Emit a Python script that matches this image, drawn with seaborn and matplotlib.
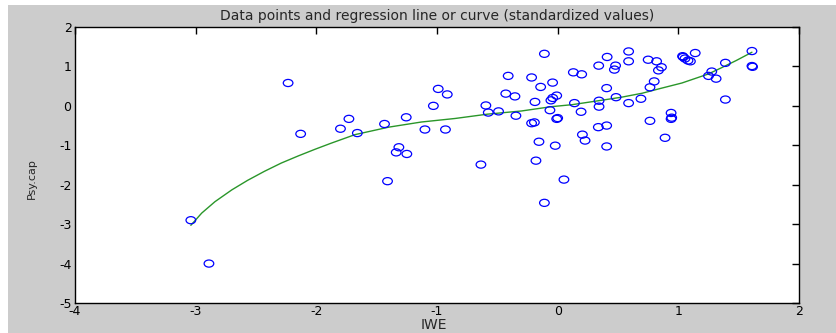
import numpy as np
import pandas as pd
import matplotlib
matplotlib.use("Agg")
import matplotlib.pyplot as plt
from matplotlib.path import Path
from matplotlib.patches import Rectangle
import seaborn as sns

# ---- data ----
iwe = [-3.04, -2.89, -2.234, -2.13, -1.80, -1.73, -1.66, -1.435, -1.41, -1.316,
       -1.338, -1.25, -1.255, -1.10, -1.03, -0.99, -0.915, -0.93, -0.636, -0.595,
       -0.575, -0.49, -0.41, -0.43, -0.354, -0.346, -0.216, -0.188, -0.216, -0.193,
       -0.141, -0.155, -0.18, -0.11, -0.11, -0.042, -0.056, -0.041, -0.008, -0.064,
       -0.008, 0.0, -0.02, 0.052, 0.130, 0.199, 0.139, 0.194, 0.205, 0.227,
       0.34, 0.343, 0.343, 0.337, 0.406, 0.406, 0.406, 0.41, 0.48, 0.47,
       0.484, 0.588, 0.588, 0.588, 0.69, 0.75, 0.765, 0.765, 0.80, 0.82,
       0.86, 0.835, 0.89, 0.94, 0.945, 0.94, 1.04, 1.055, 1.08, 1.10,
       1.035, 1.14, 1.277, 1.25, 1.313, 1.39, 1.39, 1.61, 1.61, 1.615]
psycap = [-2.90, -4.00, 0.58, -0.71, -0.58, -0.33, -0.69, -0.46, -1.91, -1.05,
          -1.18, -1.22, -0.29, -0.60, 0.0, 0.43, 0.29, -0.60, -1.49, 0.01,
          -0.17, -0.14, 0.76, 0.31, 0.24, -0.25, 0.72, 0.10, -0.44, -0.42,
          0.48, -0.91, -1.39, 1.32, -2.46, 0.59, 0.14, 0.20, 0.26, -0.11,
          -0.33, -0.31, -1.01, -1.87, 0.85, 0.80, 0.07, -0.15, -0.73, -0.88,
          1.02, 0.13, -0.02, -0.54, -0.50, -1.03, 0.45, 1.24, 1.02, 0.92,
          0.22, 1.38, 1.13, 0.07, 0.18, 1.17, 0.47, -0.38, 0.62, 1.13,
          0.98, 0.90, -0.81, -0.18, -0.30, -0.33, 1.24, 1.20, 1.15, 1.13,
          1.26, 1.34, 0.87, 0.76, 0.69, 1.09, 0.16, 1.39, 1.01, 0.99]

curve_x = [-3.04, -2.95, -2.84, -2.70, -2.57, -2.43, -2.29, -2.15, -2.01, -1.88,
           -1.68, -1.40, -1.13, -0.85, -0.58, -0.30, -0.05, 0.12, 0.36, 0.53,
           0.70, 0.85, 1.03, 1.25, 1.36, 1.48, 1.61]
curve_y = [-3.03, -2.72, -2.43, -2.13, -1.89, -1.66, -1.45, -1.27, -1.10, -0.95,
           -0.73, -0.54, -0.41, -0.32, -0.21, -0.13, -0.02, 0.03, 0.14, 0.22,
           0.32, 0.44, 0.58, 0.81, 0.97, 1.15, 1.36]

x_ticks = [-4, -3, -2, -1, 0, 1, 2]
y_ticks = [-5, -4, -3, -2, -1, 0, 1, 2]

title = "Data points and regression line or curve (standardized values)"
x_label = "IWE"
y_label = "Psy.cap"

# ---- style ----
sns.set_style("white")
plt.rcParams["font.family"] = ["DejaVu Sans"]
plt.rcParams["axes.unicode_minus"] = False

fig = plt.figure(figsize=(8.37, 3.33), dpi=100, facecolor="#cccccc")
fig.patches.append(Rectangle((0, 0), 8 / 837, 1, transform=fig.transFigure,
                             facecolor="white", edgecolor="none", zorder=-1))
fig.patches.append(Rectangle((0, 1 - 5 / 333), 1, 5 / 333, transform=fig.transFigure,
                             facecolor="white", edgecolor="none", zorder=-1))

ax = fig.add_axes([75 / 837, 1 - 303 / 333, (799 - 75) / 837, (303 - 27) / 333])
ax.set_facecolor("white")

df = pd.DataFrame({"IWE": iwe, "Psycap": psycap})
cdf = pd.DataFrame({"x": curve_x, "y": curve_y})

circ = Path.unit_circle()
ell = Path(circ.vertices * np.array([1.0, 0.74]), circ.codes)

sns.lineplot(data=cdf, x="x", y="y", ax=ax, color="#2a962a", linewidth=1.0,
             sort=False, estimator=None)
sns.scatterplot(data=df, x="IWE", y="Psycap", ax=ax, marker=ell, s=48,
                facecolor="none", edgecolor="#0000ff", linewidth=0.9, zorder=3)

ax.set_xlim(-4, 2)
ax.set_ylim(-5, 2)
ax.set_xticks(x_ticks)
ax.set_yticks(y_ticks)
ax.tick_params(direction="in", length=5, width=1, top=True, right=True,
               labelsize=9, colors="black", pad=2.5)
ax.tick_params(axis="x", pad=1.5)
for s in ax.spines.values():
    s.set_visible(True)
    s.set_color("black")
    s.set_linewidth(1.0)

ax.set_title(title, fontsize=10, pad=5)
ax.set_xlabel(x_label, fontsize=10, labelpad=0)
ax.xaxis.set_label_coords(0.496, -0.055, transform=ax.transAxes)
ax.set_ylabel(y_label, fontsize=8)
ax.yaxis.set_label_coords(-0.053, 0.45)

fig.savefig("out.png", dpi=100, facecolor=fig.get_facecolor())
